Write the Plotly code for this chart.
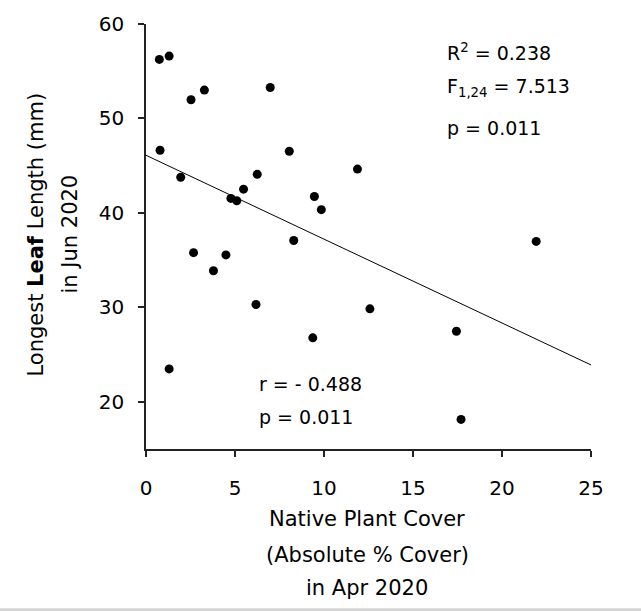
import plotly.graph_objects as go

# Data
native_cover = [0.75, 1.3, 2.53, 3.28, 6.98, 0.79, 8.05, 11.88, 1.95, 6.25, 5.48, 4.77, 5.1,
                9.46, 9.85, 2.67, 4.49, 3.79, 8.3, 6.18, 12.58, 9.37, 1.3, 21.92, 17.44, 17.7]
leaf_length = [56.25, 56.6, 51.98, 53.0, 53.28, 46.63, 46.53, 44.64, 43.77, 44.08, 42.51, 41.53, 41.28,
               41.74, 40.34, 35.79, 35.55, 33.87, 37.08, 30.3, 29.84, 26.77, 23.48, 36.98, 27.47, 18.13]
fit_x = [0, 25]
fit_y = [46.1, 23.9]

x_ticks = [0, 5, 10, 15, 20, 25]
y_ticks = [20, 30, 40, 50, 60]

FONT = "DejaVu Sans"

fig = go.Figure()
fig.add_trace(go.Scatter(x=fit_x, y=fit_y, mode="lines",
                         line=dict(color="black", width=1), showlegend=False, hoverinfo="skip"))
fig.add_trace(go.Scatter(x=native_cover, y=leaf_length, mode="markers",
                         marker=dict(color="black", size=9, symbol="circle"), showlegend=False))

W, H = 641, 613
L, R, T, B = 146, 50, 19, 164
pw, ph = W - L - R, H - T - B

def px(x):
    return (x - L) / pw

def py(y):
    return (H - B - y) / ph

annos = []
# x axis title lines
for txt, yc in [("Native Plant Cover", 520), ("(Absolute % Cover)", 556), ("in Apr 2020", 590)]:
    annos.append(dict(text=txt, x=px(367), y=py(yc), xref="paper", yref="paper",
                      xanchor="center", yanchor="middle", showarrow=False,
                      font=dict(family=FONT, size=21, color="black")))
# y axis title lines
for txt, xc in [("Longest <b>Leaf</b> Length (mm)", 36), ("in Jun 2020", 70)]:
    annos.append(dict(text=txt, x=px(xc), y=py(232), xref="paper", yref="paper",
                      xanchor="center", yanchor="middle", showarrow=False, textangle=-90,
                      font=dict(family=FONT, size=21, color="black")))
# statistics
for txt, xl, yc in [("R<sup>2</sup> = 0.238", 445, 47), ("F<sub>1,24</sub> = 7.513", 445, 83),
                    ("p = 0.011", 445, 124), ("r = - 0.488", 257, 383), ("p = 0.011", 257, 417)]:
    annos.append(dict(text=txt, x=px(xl), y=py(yc), xref="paper", yref="paper",
                      xanchor="left", yanchor="middle", showarrow=False,
                      font=dict(family=FONT, size=19, color="black")))

fig.update_layout(
    width=W, height=H,
    margin=dict(l=L, r=R, t=T, b=B),
    paper_bgcolor="white", plot_bgcolor="white",
    font=dict(family=FONT, size=20, color="black"),
    annotations=annos,
    shapes=[dict(type="rect", xref="paper", yref="paper", x0=px(0), x1=px(W),
                 y0=py(613), y1=py(610), fillcolor="#d4d4d4", line=dict(width=0), layer="above")],
    xaxis=dict(range=[0, 25], tickvals=x_ticks, ticks="outside", ticklen=6, tickwidth=1.5,
               tickcolor="#222", showline=True, linecolor="#222", linewidth=1.5,
               showgrid=False, zeroline=False, ticklabelstandoff=14,
               tickfont=dict(family=FONT, size=20, color="black")),
    yaxis=dict(range=[15, 60], tickvals=y_ticks, ticks="outside", ticklen=6, tickwidth=1.5,
               tickcolor="#222", showline=True, linecolor="#222", linewidth=1.5,
               showgrid=False, zeroline=False, ticklabelstandoff=10,
               tickfont=dict(family=FONT, size=20, color="black")),
)

fig.write_html("out.html")
